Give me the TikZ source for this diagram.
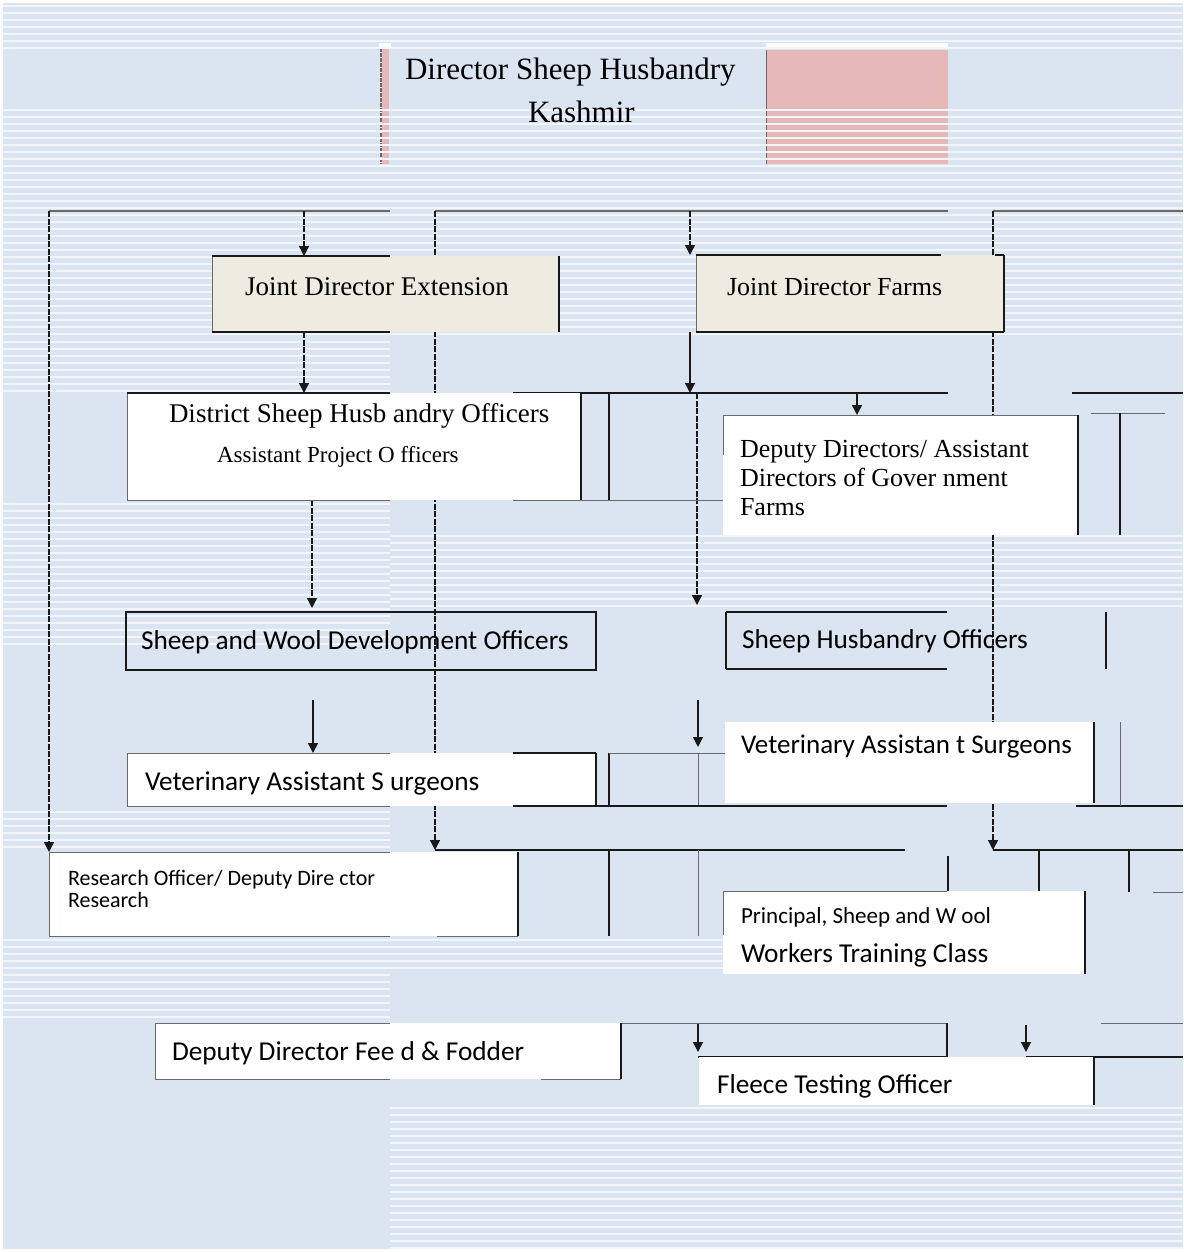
\documentclass[tikz,border=0pt]{standalone}
\usepackage{fontspec}
\setmainfont{Liberation Serif}
\newfontfamily\calfont{Carlito}
\usetikzlibrary{arrows.meta}
\pgfdeclarelayer{back}
\pgfdeclarelayer{conn}
\pgfsetlayers{back,conn,main}
\definecolor{bgblue}{RGB}{219,229,241}
\definecolor{stripe}{RGB}{242,245,250}
\definecolor{pinkf}{RGB}{230,184,183}
\definecolor{beige}{RGB}{238,236,225}
\definecolor{lineg}{RGB}{105,105,105}
\definecolor{dark}{RGB}{25,25,25}
\newcommand\setfs[1]{\fontsize{#1}{#1}\selectfont}
\begin{document}
\begin{tikzpicture}[x=1pt,y=-1pt,
 bx/.style={inner sep=0pt,outer sep=0pt,anchor=north west,draw=none},
 txt/.style={inner sep=0pt,outer sep=0pt,anchor=base west},
 thinb/.style={draw=lineg,line width=1pt},
 medb/.style={draw=dark,line width=1.6pt},
 thkb/.style={draw=dark,line width=2.6pt},
 bus/.style={draw=lineg,line width=1.2pt},
 arr/.style={draw=dark,line width=1.4pt,-{Triangle[width=10pt,length=10pt]}},
 dsh/.style={dash pattern=on 6pt off 1.5pt},
 stripeln/.style={draw=stripe,line width=1.5pt},
]
\useasboundingbox (0,0) rectangle (1183,1252);
% ---------------- background ----------------
\begin{pgfonlayer}{back}
\fill[white] (0,0) rectangle (1183,1252);
\fill[bgblue] (3,3) rectangle (1183,1249);
% director shapes
\fill[white] (379,43) rectangle (391,48);
\fill[pinkf] (382,48) rectangle (389,164);
\draw[lineg,line width=1.2pt,dash pattern=on 4pt off 1pt] (381,48) -- (381,164);
\fill[white] (766,43) rectangle (948,49);
\draw[lineg,line width=0.8pt] (766,48) -- (948,48);
\node[bx,fill=pinkf,minimum width=182pt,minimum height=114pt] (dirbox) at (766,50) {};
\draw[lineg,line width=1pt] (dirbox.north west) -- (dirbox.south west);
\foreach \xa/\xb/\ya/\yb in {3/1183/6/48, 3/1183/110/335, 3/390/342/393, 3/390/504/650,
   390/1183/536/607, 3/390/812/850, 3/390/940/1020, 390/723/940/972, 390/1183/1108/1250}{
  \pgfmathtruncatemacro\ysec{\ya+7}
  \foreach \yy in {\ya,\ysec,...,\yb}{\draw[stripeln] (\xa,\yy) -- (\xb,\yy);}
}
\end{pgfonlayer}
% ---------------- boxes ----------------
\coordinate (c390) at (390,0);
\coordinate (c513) at (513,0);
\coordinate (c541) at (541,0);
\coordinate (c437) at (437,0);
\coordinate (c941) at (941,0);
\coordinate (c947) at (947,0);
\coordinate (c995) at (995,0);
\node[bx,fill=beige,minimum width=347pt,minimum height=76pt] (jde) at (212,256) {};
\node[bx,fill=beige,minimum width=308pt,minimum height=77pt] (jdf) at (696,255) {};
\node[bx,fill=white,minimum width=454pt,minimum height=107pt] (dsho) at (127,393) {};
\node[bx,fill=white,minimum width=355pt,minimum height=120pt] (dd) at (723,415) {};
\node[bx,minimum width=470pt,minimum height=58pt] (swdo) at (126,612) {};
\node[bx,minimum width=380pt,minimum height=57pt] (sho) at (726,612) {};
\node[bx,fill=white,minimum width=469pt,minimum height=53pt] (vas1) at (127,753) {};
\node[bx,fill=white,minimum width=369pt,minimum height=81pt] (vas2) at (725,722) {};
\node[bx,fill=white,minimum width=469pt,minimum height=84pt] (ro) at (49,852) {};
\node[bx,fill=white,minimum width=362pt,minimum height=83pt] (psw) at (723,891) {};
\node[bx,fill=white,minimum width=466pt,minimum height=56pt] (ddff) at (155,1023) {};
\node[bx,fill=white,minimum width=395pt,minimum height=48pt] (fto) at (699,1057) {};
% box edges
\draw[thinb] (jde.north west) -- (jde.south west);
\draw[medb] (jde.north west) -- (jde.north west -| c390);
\draw[medb] (jde.south west) -- (jde.south west -| c390);
\draw[thkb] (jde.north east) -- (jde.south east);
\draw[thinb] (jdf.north west) -- (jdf.south west);
\draw[medb] (jdf.north west) -- (jdf.north west -| c941);
\draw[medb] (jdf.north east -| c995) -- (jdf.north east);
\draw[medb] (jdf.south west) -- (jdf.south east);
\draw[thkb] (jdf.north east) -- (jdf.south east);
\draw[thinb] (dsho.north west) -- (dsho.south west);
\draw[medb] (dsho.north west) -- (dsho.north west -| c390);
\draw[thinb] (dsho.south west) -- (dsho.south west -| c390);
\draw[thkb] (dsho.north east) -- (dsho.south east);
\draw[thinb] (dd.north west) -- (dd.north east);
\draw[thinb] (dd.north west) -- ([yshift=-40pt]dd.north west);
\draw[thkb] (dd.north east) -- (dd.south east);
\draw[thkb] (swdo.north west) rectangle (swdo.south east);
\draw[thkb] (sho.north west) -- (sho.south west);
\draw[thkb] (sho.north west) -- (sho.north west -| c947);
\draw[thkb] (sho.south west) -- (sho.south west -| c947);
\draw[thkb] (sho.north east) -- (sho.south east);
\draw[thinb] (vas1.north west) -- (vas1.south west);
\draw[thinb] (vas1.north west) -- (vas1.north west -| c390);
\draw[thinb] (vas1.south west) -- (vas1.south west -| c390);
\draw[medb] (vas1.north west -| c513) -- (vas1.north east);
\draw[medb] (vas1.south west -| c513) -- (vas1.south east);
\draw[thkb] (vas1.north east) -- (vas1.south east);
\draw[thkb] (vas2.north east) -- (vas2.south east);
\draw[thinb] (ro.north west) -- (ro.south west);
\draw[thinb] (ro.north west) -- (ro.north west -| c390);
\draw[thinb] (ro.south west) -- (ro.south west -| c390);
\draw[thinb] (ro.south west -| c437) -- (ro.south east);
\draw[medb] (ro.north east) -- (ro.south east);
\draw[thinb] (psw.north west) -- (psw.north west -| c947);
\draw[thinb] (psw.north west) -- ([yshift=-44pt]psw.north west);
\draw[thkb] (psw.north east) -- (psw.south east);
\draw[thinb] (ddff.north west) -- (ddff.south west);
\draw[thinb] (ddff.north west) -- (ddff.north west -| c390);
\draw[thinb] (ddff.south west) -- (ddff.south west -| c390);
\draw[thinb] (ddff.south west -| c541) -- (ddff.south east);
\draw[medb] (ddff.north east) -- (ddff.south east);
\draw[medb] (fto.north east) -- (fto.south east);
% ---------------- connectors ----------------
\coordinate (t49) at (49,211);
\coordinate (t304) at (304,211);
\coordinate (t390) at (390,211);
\coordinate (t435) at (435,211);
\coordinate (t690) at (690,211);
\coordinate (t948) at (948,211);
\coordinate (t993) at (993,211);
\coordinate (t1183) at (1183,211);
\coordinate (b435) at (435,850);
\coordinate (b905) at (905,850);
\coordinate (b993) at (993,850);
\coordinate (b1183) at (1183,850);
\coordinate (m513) at (513,393);
\coordinate (m690) at (690,393);
\coordinate (m697) at (697,393);
\coordinate (m857) at (857,393);
\coordinate (m948) at (948,393);
\coordinate (m1072) at (1072,393);
\coordinate (m1183) at (1183,393);
\coordinate (e697) at (697,605);
\coordinate (c312) at (312,0);
\coordinate (s313) at (313,700);
\coordinate (s698) at (698,700);
\coordinate (e698) at (698,747);
\coordinate (f698) at (698,1023);
\coordinate (f1026) at (1026,1025);
\begin{pgfonlayer}{conn}
\draw[bus] (t49) -- (t390);
\draw[bus] (t435) -- (t948);
\draw[bus] (t993) -- (t1183);
\draw[arr,dsh] (t49) -- (ro.north west);
\draw[arr,dsh] (t304) -- (t304 |- jde.north);
\draw[arr,dsh] (t435) -- (b435);
\draw[arr,dsh] (t690) -- (t690 |- jdf.north);
\draw[arr,dsh] (t993) -- (b993);
\draw[arr,dsh] (t304 |- jde.south) -- (t304 |- dsho.north);
\draw[arr] (t690 |- jdf.south) -- (m690);
\draw[medb] (m513) -- (m948);
\draw[medb] (m1072) -- (m1183);
\draw[arr] (m857) -- (m857 |- dd.north);
\draw[arr,dsh] (c312 |- dsho.south) -- ([yshift=4pt]c312 |- swdo.north);
\draw[arr,dsh] (m697) -- (e697);
\draw[arr] (s313) -- (s313 |- vas1.north);
\draw[arr] (s698) -- (e698);
\draw[thkb] (b435) -- (b905);
\draw[thkb] (b993) -- (b1183);
\draw[arr] (f698) -- ([yshift=5pt]f698 |- fto.north);
\draw[arr] (f1026) -- ([yshift=5pt]f1026 |- fto.north);
% fragments of the page
\draw[thkb] (609,393) -- (609,500);
\draw[thinb] (513,500) -- (723,500);
\draw[thinb] (1091,413) -- (1165,413);
\draw[medb] (1120,413) -- (1120,535);
\draw[thkb] (609,753) -- (609,806);
\draw[thinb] (698,753) -- (698,806);
\draw[thinb] (609,753) -- (725,753);
\draw[medb] (596,806) -- (947,806);
\draw[medb] (1076,806) -- (1183,806);
\draw[thinb] (1120,722) -- (1120,806);
\draw[medb] (609,850) -- (609,936);
\draw[thinb] (698,850) -- (698,936);
\draw[medb] (948,856) -- (948,892);
\draw[medb] (1039,850) -- (1039,892);
\draw[medb] (1129,850) -- (1129,892);
\draw[thinb] (1153,892) -- (1183,892);
\draw[thinb] (541,1023) -- (947,1023);
\draw[medb] (947,1023) -- (947,1057);
\draw[medb] (698,1057) -- (947,1057);
\draw[medb] (1026,1057) -- (1183,1057);
\draw[thinb] (1101,1023) -- (1183,1023);
\end{pgfonlayer}
% ---------------- texts ----------------
\node[txt,font=\setfs{31}] (dirA) at (405,80) {Director Sheep Husbandry};
\node[txt,font=\setfs{31}] (dirB) at (528,123) {Kashmir};
\node[txt,font=\setfs{27}] (jdeT) at (245,295) {Joint Director Extension};
\node[txt,font=\setfs{26}] (jdfT) at (727,295) {Joint Director Farms};
\node[txt,font=\setfs{27}] (dshoA) at (169,422) {District Sheep Husb andry Officers};
\node[txt,font=\setfs{23}] (dshoB) at (217,462) {Assistant Project O fficers};
\node[txt,font=\setfs{26}] (ddA) at (740,457) {Deputy Directors/ Assistant};
\node[txt,font=\setfs{26}] (ddB) at (740,486) {Directors of Gover nment};
\node[txt,font=\setfs{26}] (ddC) at (740,515) {Farms};
\node[txt,font=\calfont\setfs{27.3}] (swdoT) at (141,649) {Sheep and Wool Development Officers};
\node[txt,font=\calfont\setfs{27.3}] (shoT) at (742,648) {Sheep Husbandry Officers};
\node[txt,font=\calfont\setfs{27.3}] (vas1T) at (145,790) {Veterinary Assistant S urgeons};
\node[txt,font=\calfont\setfs{27}] (vas2T) at (741,753) {Veterinary Assistan t Surgeons};
\node[txt,font=\calfont\setfs{22}] (roA) at (68,885) {Research Officer/ Deputy Dire ctor};
\node[txt,font=\calfont\setfs{22}] (roB) at (68,907) {Research};
\node[txt,font=\calfont\setfs{23}] (pswA) at (741,923) {Principal, Sheep and W ool};
\node[txt,font=\calfont\setfs{27.3}] (pswB) at (741,962) {Workers Training Class};
\node[txt,font=\calfont\setfs{27.3}] (ddffT) at (172,1060) {Deputy Director Fee d \& Fodder};
\node[txt,font=\calfont\setfs{27.3}] (ftoT) at (717,1093) {Fleece Testing Officer};
\end{tikzpicture}
\end{document}
